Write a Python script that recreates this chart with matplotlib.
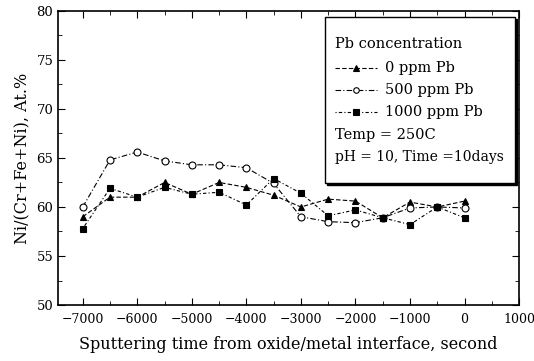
import numpy as np
import matplotlib.pyplot as plt
from matplotlib.patches import Rectangle
from matplotlib.ticker import MultipleLocator

plt.rcParams['font.family'] = 'DejaVu Serif'

time_s = [-7000, -6500, -6000, -5500, -5000, -4500, -4000, -3500,
          -3000, -2500, -2000, -1500, -1000, -500, 0]
ni_0ppm = [59.0, 61.0, 61.0, 62.5, 61.3, 62.5, 62.0, 61.2,
           60.0, 60.8, 60.6, 58.9, 60.5, 60.0, 60.6]
ni_500ppm = [60.0, 64.8, 65.6, 64.7, 64.3, 64.3, 64.0, 62.4,
             59.0, 58.5, 58.4, 58.9, 59.9, 60.0, 59.9]
ni_1000ppm = [57.8, 61.9, 61.0, 62.0, 61.3, 61.5, 60.2, 62.9,
              61.4, 59.1, 59.7, 58.9, 58.2, 60.0, 58.9]

series = [
    ('0 ppm Pb', ni_0ppm, '^', 'k', (0, (4, 2))),
    ('500 ppm Pb', ni_500ppm, 'o', 'white', (0, (5, 2, 1, 2))),
    ('1000 ppm Pb', ni_1000ppm, 's', 'k', (0, (1, 2, 3, 2))),
]

fig = plt.figure(figsize=(5.34, 3.61), dpi=100)
ax = fig.add_axes([0.109, 0.155, 0.863, 0.815])

for label, vals, mk, fc, ls in series:
    ax.plot(time_s, vals, color='k', lw=0.8, linestyle=ls, marker=mk,
            markersize=5, markerfacecolor=fc, markeredgecolor='k',
            markeredgewidth=0.8)

ax.set_xlim(-7450, 1000)
ax.set_ylim(50, 80)
ax.xaxis.set_major_locator(MultipleLocator(1000))
ax.xaxis.set_minor_locator(MultipleLocator(500))
ax.yaxis.set_major_locator(MultipleLocator(5))
ax.yaxis.set_minor_locator(MultipleLocator(2.5))
ax.tick_params(which='both', direction='in', top=True, right=True, labelsize=9.5)
ax.tick_params(which='major', length=5)
ax.tick_params(which='minor', length=3)
ax.tick_params(axis='x', pad=6, labelsize=9)
for sp in ax.spines.values():
    sp.set_linewidth(1.2)

ax.set_xlabel('Sputtering time from oxide/metal interface, second', fontsize=11.5,
              labelpad=7)
ax.set_ylabel('Ni/(Cr+Fe+Ni), At.%', fontsize=11.5)

# legend box drawn by hand
bx0, by0, bx1, by1 = 0.579, 0.415, 0.991, 0.98
ax.add_patch(Rectangle((bx0 + 0.005, by0 - 0.008), bx1 - bx0, by1 - by0,
                       transform=ax.transAxes, facecolor='k', edgecolor='k', zorder=5))
ax.add_patch(Rectangle((bx0, by0), bx1 - bx0, by1 - by0,
                       transform=ax.transAxes, facecolor='white', edgecolor='k',
                       lw=1.0, zorder=6))
tx = 0.601
ax.text(tx, 0.888, 'Pb concentration', transform=ax.transAxes, fontsize=10.5,
        va='center', zorder=7)
rows = [0.806, 0.731, 0.656]
for (label, vals, mk, fc, ls), ry in zip(series, rows):
    ax.plot([tx, 0.692], [ry, ry], transform=ax.transAxes, color='k', lw=0.8,
            linestyle=ls, zorder=7)
    ax.plot([0.646], [ry], transform=ax.transAxes, marker=mk, markersize=4,
            markerfacecolor=fc, markeredgecolor='k', markeredgewidth=0.8,
            linestyle='none', zorder=8)
    ax.text(0.709, ry, label, transform=ax.transAxes, fontsize=10.5,
            va='center', zorder=7)
ax.text(tx, 0.578, 'Temp = 250C', transform=ax.transAxes, fontsize=10.5,
        va='center', zorder=7)
ax.text(tx, 0.503, 'pH = 10, Time =10days', transform=ax.transAxes, fontsize=10,
        va='center', zorder=7)

fig.savefig('out.png', dpi=100)
